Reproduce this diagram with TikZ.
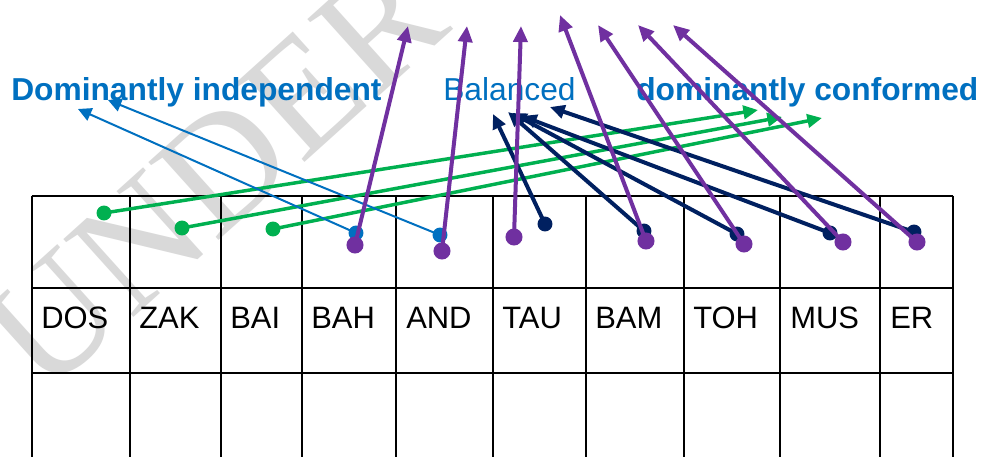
\documentclass[tikz,border=0pt]{standalone}
\usepackage{fontspec}
\setmainfont{Liberation Sans}
\newfontfamily\wmfont{Liberation Serif}
\usetikzlibrary{arrows.meta}
\definecolor{cblue}{HTML}{0070C0}
\definecolor{cgreen}{HTML}{00B050}
\definecolor{cnavy}{HTML}{002060}
\definecolor{cpurple}{HTML}{7030A0}
\definecolor{cwm}{HTML}{D9D9D9}
\begin{document}
\begin{tikzpicture}[x=0.75pt,y=-0.75pt,
  grid/.style={line width=1.5pt,black},
  lbl/.style={anchor=base west,inner sep=0,font=\fontsize{23.2}{28}\selectfont},
  head/.style={anchor=base west,inner sep=0,text=cblue,font=\fontsize{23.8}{28}\selectfont},
  dotbase/.style={circle,inner sep=0,minimum size=11.2pt},
  gdot/.style={dotbase,fill=cgreen},
  bdot/.style={dotbase,fill=cblue},
  ndot/.style={dotbase,fill=cnavy},
  pdot/.style={circle,inner sep=0,minimum size=12.8pt,fill=cpurple},
  garr/.style={draw=cgreen,line width=2.6pt,-{Triangle[length=11pt,width=10pt]}},
  barr/.style={draw=cblue,line width=1.5pt,-{Triangle[length=10pt,width=10pt]}},
  narr/.style={draw=cnavy,line width=3pt,-{Triangle[length=11pt,width=10pt]}},
  parr/.style={draw=cpurple,line width=3pt,-{Triangle[length=12pt,width=10.5pt]}}
]
\useasboundingbox (0,0) rectangle (985,457);
\fill[white] (0,0) rectangle (985,457);
% watermark
\begin{scope}
\clip (0,0) rectangle (985,457);
\node[rotate=42,anchor=base west,inner sep=0,text=cwm,font=\wmfont\fontsize{120}{120}\selectfont] (wm) at (44,398) {UNDER REVIEW};
\end{scope}
% table
\foreach \x in {31.7,130,221,302,396,493,586,684,780,880,952.7}
  \draw[grid] (\x,195.7) -- (\x,457);
\foreach \y in {195.7,287.7,372.7}
  \draw[grid] (31.7,\y) -- (952.7,\y);
% labels
\node[lbl] (dos) at (41,328) {DOS};
\node[lbl] (zak) at (139,328) {ZAK};
\node[lbl] (bai) at (230,328) {BAI};
\node[lbl] (bah) at (311,328) {BAH};
\node[lbl] (and) at (406,328) {AND};
\node[lbl] (tau) at (502,328) {TAU};
\node[lbl] (bam) at (595,328) {BAM};
\node[lbl] (toh) at (693,328) {TOH};
\node[lbl] (mus) at (790,328) {MUS};
\node[lbl] (er) at (890,328) {ER};
% headings
\node[head,font=\bfseries\fontsize{23.8}{28}\selectfont] (indep) at (11,100) {Dominantly independent};
\node[head] (bal) at (443,100) {Balanced};
\node[head,font=\bfseries\fontsize{23.8}{28}\selectfont] (conf) at (636,100) {dominantly conformed};
% arrow tip coordinates
\coordinate (gt1) at (758,110);
\coordinate (gt2) at (782,117);
\coordinate (gt3) at (822,118);
\coordinate (bt1) at (78,109);
\coordinate (bt2) at (108,100);
\coordinate (nt1) at (493,114);
\coordinate (nt2) at (508,112);
\coordinate (nt3) at (512,113);
\coordinate (nt4) at (522,116);
\coordinate (nt5) at (550,107);
\coordinate (pt1) at (408,26);
\coordinate (pt2) at (467,26);
\coordinate (pt3) at (521,26);
\coordinate (pt4) at (560,15);
\coordinate (pt5) at (598,25);
\coordinate (pt6) at (638,25);
\coordinate (pt7) at (673,25);
% green
\node[gdot] (g1) at (104,213) {};
\node[gdot] (g2) at (182,228) {};
\node[gdot] (g3) at (273,229) {};
\draw[garr] (g1.center) -- (gt1);
\draw[garr] (g2.center) -- (gt2);
\draw[garr] (g3.center) -- (gt3);
% blue
\node[bdot] (b1) at (356,233) {};
\node[bdot] (b2) at (440,235) {};
\draw[barr] (b1.center) -- (bt1);
\draw[barr] (b2.center) -- (bt2);
% navy
\node[ndot] (n1) at (545,224) {};
\node[ndot] (n2) at (644,231) {};
\node[ndot] (n3) at (737,234) {};
\node[ndot] (n4) at (830,233) {};
\node[ndot] (n5) at (914,232) {};
\draw[narr] (n1.center) -- (nt1);
\draw[narr] (n2.center) -- (nt2);
\draw[narr] (n3.center) -- (nt3);
\draw[narr] (n4.center) -- (nt4);
\draw[narr] (n5.center) -- (nt5);
% purple
\node[pdot] (p1) at (355,245) {};
\node[pdot] (p2) at (442,251) {};
\node[pdot] (p3) at (514,237) {};
\node[pdot] (p4) at (646,241) {};
\node[pdot] (p5) at (744,244) {};
\node[pdot] (p6) at (843,242) {};
\node[pdot] (p7) at (917,242) {};
\draw[parr] (p1.center) -- (pt1);
\draw[parr] (p2.center) -- (pt2);
\draw[parr] (p3.center) -- (pt3);
\draw[parr] (p4.center) -- (pt4);
\draw[parr] (p5.center) -- (pt5);
\draw[parr] (p6.center) -- (pt6);
\draw[parr] (p7.center) -- (pt7);
\end{tikzpicture}
\end{document}
